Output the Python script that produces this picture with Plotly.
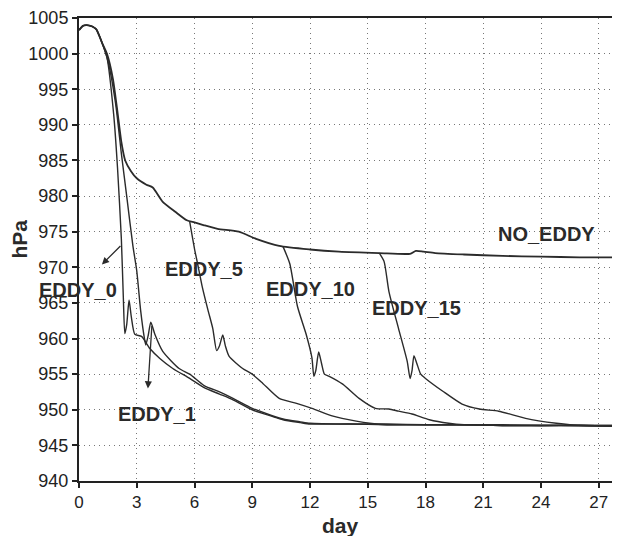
import plotly.graph_objects as go

# ---- data ----
no_eddy_day = [0, 0.2, 0.4, 0.7, 0.9, 1.2, 1.45, 1.76, 2.0, 2.2, 2.4, 2.7, 3.0, 3.5, 3.83, 4.35,
               5.0, 5.6, 6.0, 6.5, 7.2, 8.3, 9.2, 10.4, 12.0, 13.5, 15.6, 17.2, 17.5, 17.9,
               18.5, 20.0, 22.0, 24.0, 26.0, 28.0]
no_eddy_hpa = [1003.3, 1003.9, 1004.0, 1003.8, 1003.4, 1001.5, 1000.0, 996.5, 991.8, 987.6, 985.0,
               983.5, 982.5, 981.6, 981.2, 979.2, 977.8, 976.6, 976.3, 975.9, 975.4, 975.0, 974.0,
               973.0, 972.5, 972.2, 972.0, 971.9, 972.3, 972.2, 972.0, 971.8, 971.6, 971.5,
               971.4, 971.4]

eddy0_day = [0, 0.2, 0.4, 0.7, 0.9, 1.2, 1.45, 1.8, 2.0, 2.2, 2.3, 2.38, 2.48, 2.6, 2.72, 2.9,
             3.25, 3.68, 4.2, 4.87, 5.75, 6.5, 7.3, 8.0, 9.0, 10.0, 10.6, 11.5, 12.0, 14.0,
             16.0, 18.0, 20.0, 22.0, 24.0, 26.0, 28.0]
eddy0_hpa = [1003.3, 1003.9, 1004.0, 1003.8, 1003.4, 1001.5, 999.5, 991.5, 984.0, 974.0, 966.0,
             960.7, 962.0, 965.4, 963.0, 960.6, 960.3, 958.6, 957.2, 955.8, 954.4, 953.1, 952.2,
             951.4, 950.0, 949.1, 948.6, 948.2, 948.0, 948.0, 947.9, 947.9, 947.9, 947.8,
             947.8, 947.8, 947.7]

eddy1_day = [0, 0.2, 0.4, 0.7, 0.9, 1.2, 1.5, 1.9, 2.2, 2.5, 2.8, 3.0, 3.2, 3.4, 3.47, 3.6,
             3.73, 3.94, 4.35, 5.2, 5.75, 6.5, 7.3, 8.0, 9.0, 10.0, 10.6, 11.5, 12.0, 14.0,
             16.0, 18.0, 20.0, 22.0, 24.0, 26.0, 28.0]
eddy1_hpa = [1003.3, 1003.9, 1004.0, 1003.8, 1003.4, 1001.5, 999.0, 993.0, 986.0, 979.5, 973.0,
             969.5, 964.0, 960.0, 959.1, 960.5, 962.3, 960.6, 958.2, 955.8, 955.0, 953.4, 952.5,
             951.6, 950.2, 949.2, 948.7, 948.3, 948.1, 948.0, 948.0, 947.9, 947.9, 947.8,
             947.8, 947.8, 947.8]

eddy5_day = [5.75, 6.0, 6.2, 6.4, 6.7, 6.95, 7.15, 7.3, 7.47, 7.6, 7.8, 8.5, 9.0, 9.55, 10.4,
             11.3, 12.1, 13.2, 14.4, 15.1, 16.0, 18.0, 20.0, 22.0, 24.0, 26.0, 28.0]
eddy5_hpa = [976.4, 972.6, 970.0, 967.3, 964.0, 961.4, 958.3, 959.0, 960.5, 959.0, 957.5, 955.8,
             955.0, 953.7, 951.6, 950.9, 950.2, 949.1, 948.4, 948.1, 947.9, 947.9, 947.9, 947.8,
             947.8, 947.8, 947.7]

eddy10_day = [10.6, 10.95, 11.35, 11.8, 12.1, 12.2, 12.3, 12.45, 12.6, 12.75, 13.0, 13.7, 14.55,
              15.4, 16.1, 16.6, 17.3, 18.2, 19.2, 20.0, 22.0, 24.0, 26.0, 28.0]
eddy10_hpa = [972.9, 970.5, 964.5, 960.6, 957.3, 954.7, 955.5, 958.1, 956.5, 955.0, 954.7, 953.6,
              951.6, 950.2, 950.1, 949.8, 949.4, 948.6, 948.1, 947.9, 947.9, 947.8, 947.8, 947.7]

eddy15_day = [15.6, 15.85, 16.1, 16.6, 17.05, 17.2, 17.3, 17.4, 17.55, 17.75, 18.0, 18.9, 19.9,
              20.8, 21.8, 23.2, 24.8, 25.5, 26.5, 28.0]
eddy15_hpa = [972.0, 970.8, 966.6, 961.4, 956.8, 954.4, 955.5, 957.6, 956.5, 955.0, 954.4, 952.6,
              950.8, 950.1, 949.8, 948.8, 948.1, 947.9, 947.8, 947.8]

series_names = ["NO_EDDY", "EDDY_0", "EDDY_1", "EDDY_5", "EDDY_10", "EDDY_15"]
series_x = [no_eddy_day, eddy0_day, eddy1_day, eddy5_day, eddy10_day, eddy15_day]
series_y = [no_eddy_hpa, eddy0_hpa, eddy1_hpa, eddy5_hpa, eddy10_hpa, eddy15_hpa]

# label positions (day, hPa) for the in-plot labels
label_text = ["NO_EDDY", "EDDY_1", "EDDY_5", "EDDY_10", "EDDY_15"]
label_x = [24.26, 4.05, 6.49, 12.0, 17.51]
label_y = [974.7, 949.4, 969.8, 966.9, 964.3]

# arrows: (tail day, tail hPa) -> (head day, head hPa)
arrow_tail_x = [2.23, 3.79]
arrow_tail_y = [973.2, 962.0]
arrow_head_x = [1.19, 3.58]
arrow_head_y = [970.4, 953.0]

x_ticks = [0, 3, 6, 9, 12, 15, 18, 21, 24, 27]
y_ticks = [940, 945, 950, 955, 960, 965, 970, 975, 980, 985, 990, 995, 1000, 1005]

# ---- figure ----
LINE = "#2b2b2b"
FONT = "Liberation Sans, Arial, sans-serif"
TXT = "#2a2a2a"

fig = go.Figure()
for name, xs, ys in zip(series_names, series_x, series_y):
    fig.add_trace(go.Scatter(
        x=xs, y=ys, mode="lines", name=name,
        line=dict(color=LINE, width=1.8 if name == "NO_EDDY" else 1.4, shape="spline", smoothing=0.6),
        showlegend=False, hoverinfo="skip"))

annotations = []
for t, x, y in zip(label_text, label_x, label_y):
    annotations.append(dict(x=x, y=y, xref="x", yref="y", text="<b>%s</b>" % t,
                            xanchor="center", yanchor="middle",
                            showarrow=False, font=dict(family=FONT, size=20, color=TXT)))
# EDDY_0 label sits across the y axis line -> paper coordinates
annotations.append(dict(x=-0.002, y=0.413, xref="paper", yref="paper", text="<b>EDDY_0</b>",
                        xanchor="center", yanchor="middle", showarrow=False,
                        font=dict(family=FONT, size=20, color=TXT)))
for tx, ty, hx, hy in zip(arrow_tail_x, arrow_tail_y, arrow_head_x, arrow_head_y):
    annotations.append(dict(x=hx, y=hy, xref="x", yref="y", ax=tx, ay=ty, axref="x", ayref="y",
                            text="", showarrow=True, arrowhead=2, arrowsize=1.1,
                            arrowwidth=1.3, arrowcolor=LINE))
annotations.append(dict(x=-0.111, y=0.522, xref="paper", yref="paper", text="<b>hPa</b>",
                        textangle=-90, showarrow=False, xanchor="center", yanchor="middle",
                        font=dict(family=FONT, size=21, color=TXT)))
annotations.append(dict(x=0.485, y=-0.097, xref="paper", yref="paper", text="<b>day</b>",
                        showarrow=False, xanchor="center", yanchor="middle",
                        font=dict(family=FONT, size=21, color=TXT)))

axis_common = dict(showline=True, linecolor="#222", linewidth=2, mirror=True,
                   ticks="outside", ticklen=5, tickcolor="#222", tickwidth=1.5,
                   showgrid=True, gridcolor="#777", gridwidth=1.3, griddash="1px,4px",
                   zeroline=False, automargin=False, ticklabeloverflow="allow")

# the page body adds an 8px margin, so the figure is 8px smaller to fit the window
fig.update_layout(
    width=612, height=528,
    margin=dict(l=71, r=2, t=10, b=55),
    paper_bgcolor="white", plot_bgcolor="white",
    xaxis=dict(range=[0, 28], tickvals=x_ticks, ticktext=[str(v) for v in x_ticks],
               tickfont=dict(family=FONT, size=17, color="#222"), **axis_common),
    yaxis=dict(range=[940, 1005], tickvals=y_ticks, ticktext=[str(v) for v in y_ticks],
               tickfont=dict(family=FONT, size=18, color="#222"), **axis_common),
    annotations=annotations,
)

fig.write_html("out.html")
